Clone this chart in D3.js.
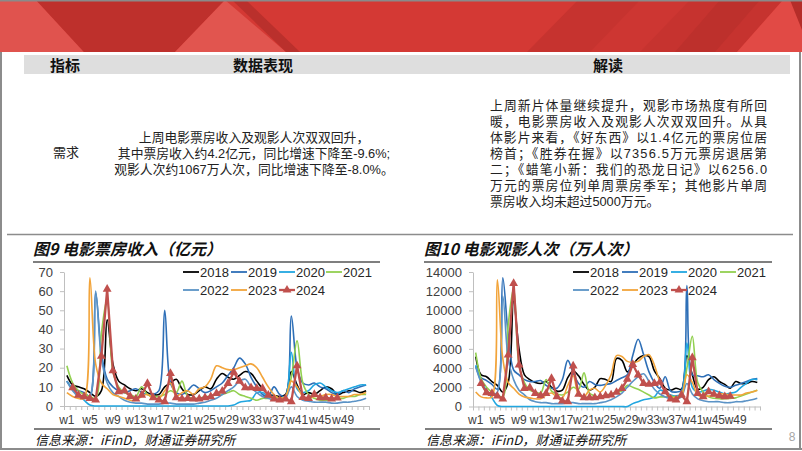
<!DOCTYPE html>
<html><head><meta charset="utf-8">
<script src="https://cdn.jsdelivr.net/npm/d3@7"></script>
<style>
body{margin:0;background:#fff;}
svg{display:block;}
.cn{font-family:"Noto Sans CJK SC","Noto Sans",sans-serif;}
.body{font-family:"Liberation Sans","Noto Sans CJK SC",sans-serif;}
.ax text{font-family:"Liberation Sans",Arial,sans-serif;font-size:13px;fill:#404040;}
.xl text{font-size:12px;}
</style></head>
<body><svg id="c" width="802" height="451"></svg>
<script>
// ---------- data ----------
const weeks = d3.range(1, 54).map(i => "w" + i);
const years = ["2018", "2019", "2020", "2021", "2022", "2023", "2024"];
const yearColors = ["#000000", "#2E6FB7", "#21A6E0", "#92D050", "#5B93C6", "#F2A43A", "#C0504D"];

// 电影票房收入（亿元）
const box2018 = [16,11,10,9,7,5,8,45,22,13, 11,9,8,9,7,6,6,10,12,14, 9,6,6,8,10,9,14,17,15,14, 16,18,17,13,9,6,5.5,5,6,18, 11,6,7,6,8,10,9,6,7,8, 8,7,8];
const box2019 = [13,9,8,7,5,59,28,14,10,8, 7,8,9,7,6,6,8,50,12,7, 6,8,11,9,7,8,10,12,16,20, 25,22,15,10,6,5,10,6,5,47, 20,12,11,12,10,9,7,6,8,7, 9,10,11];
const box2020 = [13,9,6,3,0.5,0,0,0,0,0, 0,0,0,0,0,0,0,0,0,0, 0,0,0,0,0,0,0,0,0,0.5, 2,2.5,3,7,7,5,5,4,5,28, 9,7,8,11,12,10,8,7,8,9, 10,11,11];
const box2021 = [21,12,8,6,5,4,38,56,18,10, 7,6,5,10,6,5,5,6,8,7, 13,5,4,4,5,5,6,6,7,8, 6,5,4,3,4,4,5,4,5,15, 34,12,6,4,3,3,3,4,4,5, 5,6,6];
const box2022 = [13,8,5,4,5,60,25,12,7,5, 3,2,1.5,1.5,1,1,1,1.5,1.5,1, 1,1,1,1.5,2,3,4,6,8,10, 13,14,10,7,5,4,3,3,4,10, 5,3,2.5,2,2,2,1.5,1.5,2,2, 2.5,3,4];
const box2023 = [7,5,4,4,67,22,12,9,6,5, 4,3,3,5,6,4,4,8,12,5, 7,8,6,9,10,14,21,20,19,19, 20,21,22,20,15,10,6,4,5,13, 10,5,4,5,5,6,6,5,5,5, 6,6,7];
const box2024 = [null,9.6,5.7,4.9,4.0,3.1,26,61,18.5,7.5, 8,5,3.7,5.7,11.8,4.4,3.1,2.3,17,4.4, 3.7,4,3.7,3.7,4.4,4.9,6.6,7.8,11.8,17.6, 13,9.6,9.6,9.2,9.2,5.7,3.7,3.1,3.7,2.3, 21,4.5,4,6.1,4.4,4.4,3.7,4.2];

// 电影观影人次（万人次）
const aud2018 = [5200,3300,3100,2600,2200,1500,2500,11000,6000,3300, 2800,2500,2400,2600,2000,1600,1700,3000,3700,3200, 2300,1700,2000,2900,2800,2600,5000,4800,3600,4300, 5000,5300,5200,3700,2900,1900,1700,1900,1800,5300, 3300,1800,2000,2800,3100,2600,2300,1900,2600,2400, 2400,2600,2500];
const aud2019 = [4200,3000,2700,2300,1800,13400,7500,3800,3300,2800, 2600,2600,2700,2200,1900,1900,2800,4800,3500,2400, 2000,2600,2300,2200,2300,2400,2700,3000,3300,5300, 7000,5400,3600,2500,1900,3100,1600,1500,1700,12600, 3300,3200,3100,3300,2800,2400,2100,2000,2200,2400, 2600,2800,2900];
const aud2020 = [4300,2600,1700,900,100,0,0,0,0,0, 0,0,0,0,0,0,0,0,0,0, 0,0,0,0,0,0,0,0,0,300, 500,700,800,1000,1700,1500,1200,1100,1300,6600, 2000,1500,1600,1800,1700,1500,1300,1400,1500,2000, 2400,2800,2800];
const aud2021 = [5600,2900,2000,1500,1200,1000,8500,12300,4300,2500, 1700,1500,1400,2800,1600,1300,1200,1500,2000,1800, 3500,1400,1100,1000,1200,1300,1500,1600,2200,2000, 1800,1500,1200,900,1000,1000,1100,1000,1200,4000, 7300,2500,1500,1000,850,800,800,850,900,1100, 1300,1500,1700];
const aud2022 = [4100,2500,1500,1200,1500,11500,5000,2800,1700,1200, 700,500,400,400,300,300,300,400,400,300, 300,300,300,400,500,700,1000,1400,2000,2600, 3100,3400,2600,1800,1300,1000,800,800,1000,2400, 1300,800,600,500,500,500,400,400,500,500, 600,700,850];
const aud2023 = [1500,1000,900,1000,13200,5000,2500,1900,1300,1000, 900,800,800,1200,1400,1000,900,2200,3200,1200, 1000,1700,1900,1500,2200,3300,5300,5200,4700,4600, 4700,5200,5400,4300,2600,1600,1000,900,1100,3300, 2500,1200,1000,1100,1100,1300,1300,1200,1200,1200, 1400,1500,1700];
const aud2024 = [null,2410,1440,1370,1090,780,5360,12820,4320,1890, 1960,1370,1130,1370,2930,1020,570,500,4220,1270, 920,920,920,1020,1130,1200,1480,1890,2830,4390, 3280,2410,2310,2410,2520,1540,780,680,1200,500, 5080,1370,1020,1540,1270,1130,1020,1067];

const boxTicks = [0,10,20,30,40,50,60,70];
const audTicks = [0,2000,4000,6000,8000,10000,12000,14000];

const headers = ["指标", "数据表现", "解读"];
const rowLabel = "需求";
const midLines = ["上周电影票房收入及观影人次双双回升，", "其中票房收入约4.2亿元，同比增速下降至-9.6%;", "观影人次约1067万人次，同比增速下降至-8.0%。"];
const rightLines = ["上周新片体量继续提升，观影市场热度有所回", "暖，电影票房收入及观影人次双双回升。从具", "体影片来看，《好东西》以1.4亿元的票房位居", "榜首；《胜券在握》以7356.5万元票房退居第", "二；《蜡笔小新：我们的恐龙日记》以6256.0", "万元的票房位列单周票房季军；其他影片单周", "票房收入均未超过5000万元。"];
const titles = ["图9  电影票房收入（亿元）", "图10  电影观影人次（万人次）"];
const sourceText = "信息来源：iFinD，财通证券研究所";

// ---------- drawing ----------
const svg = d3.select("#c");

// banner
const ban = svg.append("g");
ban.append("rect").attr("x",0).attr("y",0).attr("width",802).attr("height",52).attr("fill","#D43934");
const polys = [
  [[[0,0],[36,0],[84,52],[0,52]], "#E0534E"],
  [[[36,0],[225,0],[175,52],[84,52]], "#BE302C"],
  [[[225,0],[286,52],[175,52]], "#E1554F"],
  [[[232,0],[246,0],[300,52],[286,52]], "#BA302C"],
  [[[578,0],[783,0],[737,52],[527,52]], "#C6332F"],
  [[[640,0],[690,0],[640,52],[590,52]], "#CD3632"],
  [[[720,0],[760,0],[715,52],[675,52]], "#BD302C"],
  [[[783,0],[802,0],[802,52],[737,52]], "#E14A45"],
  [[[790,0],[802,0],[802,30]], "#B52D29"]
];
polys.forEach(([pts, c]) => ban.append("polygon").attr("points", pts.map(p => p.join(",")).join(" ")).attr("fill", c));
ban.append("rect").attr("x",0).attr("y",0).attr("width",802).attr("height",1.5).attr("fill","#8a8a8a");

// frame
const frame = svg.append("g").attr("stroke","#8C8C8C").attr("stroke-width",2).attr("fill","none");
frame.append("line").attr("x1",1).attr("y1",52).attr("x2",1).attr("y2",449);
frame.append("line").attr("x1",800).attr("y1",52).attr("x2",800).attr("y2",449);
frame.append("line").attr("x1",0).attr("y1",449).attr("x2",802).attr("y2",449);
svg.append("line").attr("x1",7).attr("y1",234.5).attr("x2",793).attr("y2",234.5).attr("stroke","#8C8C8C").attr("stroke-width",1.5);

// table header
svg.append("rect").attr("x",24).attr("y",55).attr("width",766).attr("height",19).attr("fill","#DEDEDE");
const hx = [65, 263, 608];
headers.forEach((h,i) => svg.append("text").attr("class","cn").attr("x",hx[i]).attr("y",64.5)
  .attr("text-anchor","middle").attr("dominant-baseline","central")
  .attr("font-size",15).attr("font-weight","bold").attr("fill","#111").text(h));

svg.append("text").attr("class","cn").attr("x",66).attr("y",151).attr("text-anchor","middle")
  .attr("dominant-baseline","central").attr("font-size",13).attr("fill","#222").text(rowLabel);

// paragraphs: one tspan per line
const midBlock = svg.append("text").attr("class","body").attr("font-size",12.8).attr("fill","#222")
  .attr("text-anchor","middle");
midLines.forEach((t,i) => midBlock.append("tspan").attr("x",254).attr("y",142 + i*16).text(t));

const rightBlock = svg.append("text").attr("class","body").attr("font-size",12.8).attr("fill","#222");
rightLines.forEach((t,i) => {
  const ts = rightBlock.append("tspan").attr("x",490).attr("y",110 + i*16).text(t);
  if (i < rightLines.length - 1) ts.attr("textLength",277).attr("lengthAdjust","spacing");
});

function drawChart(cfg) {
  const g = svg.append("g");
  // title
  g.append("text").attr("class","cn").attr("x",cfg.titleX).attr("y",248).attr("dominant-baseline","central")
    .attr("font-size",16).attr("font-weight","bold").attr("font-style","italic").attr("fill","#111").text(cfg.title);
  g.append("line").attr("x1",cfg.titleX).attr("x2",cfg.lineEnd).attr("y1",262).attr("y2",262).attr("stroke","#555").attr("stroke-width",1.3);
  // source
  g.append("line").attr("x1",cfg.titleX+1).attr("x2",cfg.lineEnd).attr("y1",429).attr("y2",429).attr("stroke","#7F7F7F").attr("stroke-width",2);
  g.append("text").attr("class","cn").attr("x",cfg.titleX+2).attr("y",439).attr("dominant-baseline","central")
    .attr("font-size",13).attr("font-style","italic").attr("fill","#111").text(sourceText);

  const xb = d3.scaleBand().domain(weeks).range(cfg.xRange);
  const xl = d3.scaleLinear().domain([0, weeks.length]).range(cfg.xRange);
  const y = d3.scaleLinear().domain([0, cfg.yMax]).range([cfg.y0, 272]);
  const cx = i => xb(weeks[i]) + xb.bandwidth()/2;

  // axes
  const ya = g.append("g").attr("class","ax").attr("transform",`translate(${cfg.xRange[0]},0)`)
    .call(d3.axisLeft(y).tickValues(cfg.ticks).tickFormat(d3.format("d")).tickSize(4).tickSizeOuter(0).tickPadding(7));
  const xa = g.append("g").attr("class","ax").attr("transform",`translate(0,${cfg.y0})`)
    .call(d3.axisBottom(xl).tickValues(d3.range(0, weeks.length+1)).tickSize(4).tickSizeOuter(0).tickFormat(""));
  const xt = g.append("g").attr("class","ax xl").attr("transform",`translate(0,${cfg.y0})`)
    .call(d3.axisBottom(xb).tickValues(weeks.filter((w,i) => i % 4 === 0 && i < 49)).tickSize(0).tickPadding(9));
  xt.select(".domain").remove();
  [ya, xa].forEach(a => { a.select(".domain").attr("stroke","#BFBFBF"); a.selectAll(".tick line").attr("stroke","#BFBFBF"); });

  // lines
  cfg.series.forEach((vals, k) => {
    const is24 = k === 6;
    const line = d3.line().defined(d => d != null).x((d,i) => cx(i)).y(d => y(d))
      .curve(is24 ? d3.curveLinear : d3.curveCatmullRom.alpha(0.5));
    g.append("path").datum(vals).attr("d", line).attr("fill","none")
      .attr("stroke", yearColors[k]).attr("stroke-width", is24 ? 2.3 : 1.6).attr("stroke-linejoin","round");
    if (is24) {
      g.selectAll(null).data(vals.map((v,i) => [v,i]).filter(d => d[0] != null)).enter().append("path")
        .attr("d", d3.symbol(d3.symbolTriangle, 34)())
        .attr("transform", d => `translate(${cx(d[1])},${y(d[0])})`)
        .attr("fill", yearColors[k]);
    }
  });

  // legend
  years.forEach((yr, k) => {
    const col = k < 4 ? k : k - 4, row = k < 4 ? 0 : 1;
    const tx = cfg.legX[col], ly = 272 + row*18;
    g.append("line").attr("x1", tx-17).attr("x2", tx-1).attr("y1", ly).attr("y2", ly)
      .attr("stroke", yearColors[k]).attr("stroke-width", k === 6 ? 2.3 : 1.8);
    if (k === 6) g.append("path").attr("d", d3.symbol(d3.symbolTriangle, 34)()).attr("transform",`translate(${tx-9},${ly})`).attr("fill", yearColors[k]);
    g.append("text").attr("x", tx).attr("y", ly).attr("dominant-baseline","central")
      .attr("font-family","Liberation Sans, Arial, sans-serif").attr("font-size",13).attr("fill","#262626").text(yr);
  });
}

drawChart({title: titles[0], titleX: 33, lineEnd: 380, xRange: [64, 369], y0: 406, yMax: 70, ticks: boxTicks,
  series: [box2018, box2019, box2020, box2021, box2022, box2023, box2024], legX: [200, 248, 296, 343]});
drawChart({title: titles[1], titleX: 424, lineEnd: 772, xRange: [473, 760], y0: 406.5, yMax: 14000, ticks: audTicks,
  series: [aud2018, aud2019, aud2020, aud2021, aud2022, aud2023, aud2024], legX: [590, 639, 688, 737]});

svg.append("text").attr("x",792).attr("y",437).attr("text-anchor","middle").attr("dominant-baseline","central")
  .attr("font-family","Liberation Sans, Arial, sans-serif").attr("font-size",12).attr("fill","#A6A6A6").text("8");
</script>
</body></html>
